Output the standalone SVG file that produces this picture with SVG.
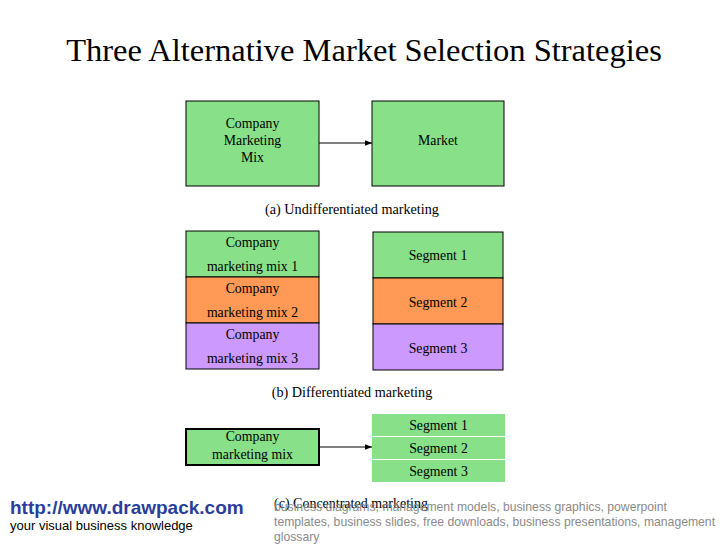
<svg xmlns="http://www.w3.org/2000/svg" width="728" height="546" viewBox="0 0 728 546">
<style>
.t{font-family:"Liberation Serif",serif;fill:#000}
.n{font-size:13.8px;text-anchor:middle}
.cap{font-size:14.2px;text-anchor:middle}
.box{stroke:#000;stroke-width:1}
.g{fill:#88e088}.o{fill:#ff9955}.p{fill:#cc99ff}
.f{font-family:"Liberation Sans",Arial,sans-serif}
</style>
<defs>
<marker id="ah" viewBox="0 0 10 10" refX="10" refY="5" markerWidth="7" markerHeight="7" orient="auto" markerUnits="userSpaceOnUse"><path d="M0,1 L10,5 L0,9 z" fill="#000"/></marker>
</defs>
<rect width="728" height="546" fill="#fff"/>
<text class="t" x="364" y="61" font-size="32.5" text-anchor="middle">Three Alternative Market Selection Strategies</text>

<g id="a-mix"><rect class="box g" x="186" y="101" width="133" height="85"/>
<text class="t n" x="252.5" y="128">Company</text><text class="t n" x="252.5" y="145">Marketing</text><text class="t n" x="252.5" y="162">Mix</text></g>
<g id="a-market"><rect class="box g" x="372" y="101" width="132" height="85"/>
<text class="t n" x="438" y="145">Market</text></g>
<text class="t cap" x="352" y="214">(a) Undifferentiated marketing</text>

<g id="b-mix1"><rect class="box g" x="186" y="231" width="133" height="46"/>
<text class="t n" x="252.5" y="247">Company</text><text class="t n" x="252.5" y="271">marketing mix 1</text></g>
<g id="b-mix2"><rect class="box o" x="186" y="277" width="133" height="46"/>
<text class="t n" x="252.5" y="293">Company</text><text class="t n" x="252.5" y="317">marketing mix 2</text></g>
<g id="b-mix3"><rect class="box p" x="186" y="323" width="133" height="46"/>
<text class="t n" x="252.5" y="339">Company</text><text class="t n" x="252.5" y="363">marketing mix 3</text></g>
<g id="b-seg1"><rect class="box g" x="373" y="232" width="130" height="46"/>
<text class="t n" x="438" y="260">Segment 1</text></g>
<g id="b-seg2"><rect class="box o" x="373" y="278" width="130" height="46"/>
<text class="t n" x="438" y="307">Segment 2</text></g>
<g id="b-seg3"><rect class="box p" x="373" y="324" width="130" height="46"/>
<text class="t n" x="438" y="353">Segment 3</text></g>
<text class="t cap" x="352" y="397">(b) Differentiated marketing</text>

<g id="c-mix"><rect class="g" x="186" y="429" width="133" height="36" stroke="#000" stroke-width="2"/>
<text class="t n" x="252.5" y="441">Company</text><text class="t n" x="252.5" y="459">marketing mix</text></g>
<g id="c-seg1"><rect class="g" x="372" y="414" width="133" height="22"/>
<text class="t n" x="438.5" y="430">Segment 1</text></g>
<g id="c-seg2"><rect class="g" x="372" y="437" width="133" height="22"/>
<text class="t n" x="438.5" y="453">Segment 2</text></g>
<g id="c-seg3"><rect class="g" x="372" y="460" width="133" height="22"/>
<text class="t n" x="438.5" y="476">Segment 3</text></g>
<text class="t" x="274" y="508" font-size="14">(c) Concentrated marketing</text>

<g id="connectors" stroke="#000" stroke-width="1" fill="none">
<line x1="319" y1="143" x2="372" y2="143" marker-end="url(#ah)"/>
<line x1="319" y1="447" x2="372" y2="447" marker-end="url(#ah)"/>
</g>

<text class="f" x="10" y="514" font-size="19" font-weight="bold" fill="#2b3d9b">http://www.drawpack.com</text>
<text class="f" x="10" y="530" font-size="13" fill="#000">your visual business knowledge</text>
<g class="f" font-size="12.2" fill="#8a8a8a">
<text x="274" y="511">business diagrams, management models, business graphics, powerpoint</text>
<text x="274" y="526">templates, business slides, free downloads, business presentations, management</text>
<text x="274" y="541">glossary</text>
</g>
</svg>
